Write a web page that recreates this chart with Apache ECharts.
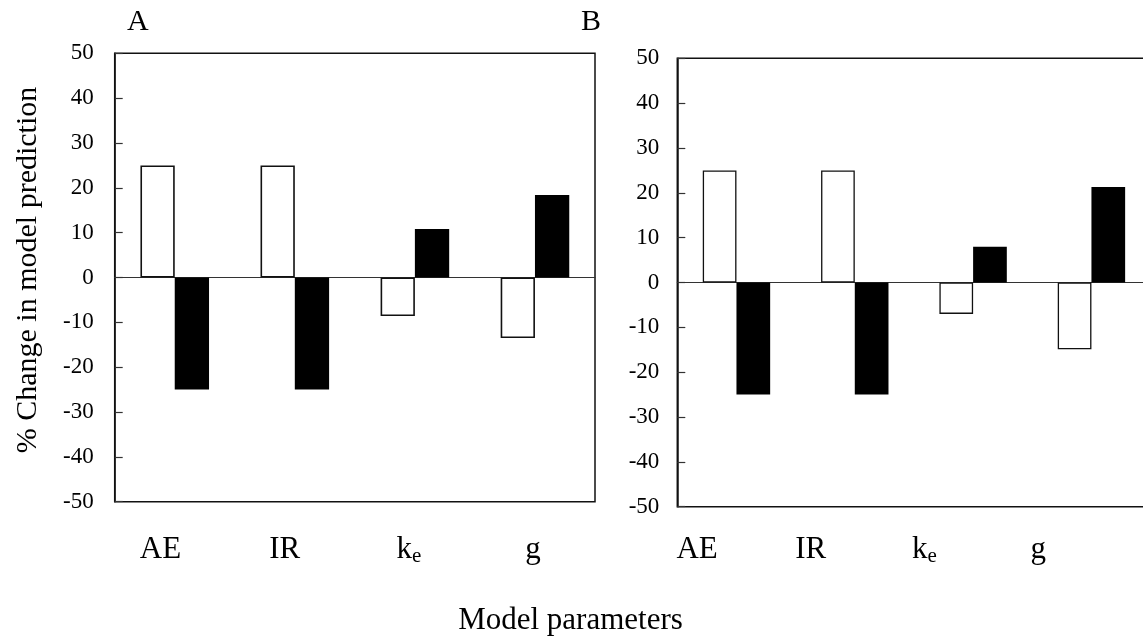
<!DOCTYPE html>
<html>
<head>
<meta charset="utf-8">
<script src="https://cdn.jsdelivr.net/npm/echarts@6/dist/echarts.min.js"></script>
<style>
  html, body { margin: 0; padding: 0; background: #fff; overflow: hidden; }
  #chart { width: 1160px; height: 638px; }
</style>
</head>
<body>
<div id="chart"></div>
<script>
// Model parameters on the category axis
const categories = ['AE', 'IR', 'k_e', 'g'];
// Y axis ticks (% change)
const yTicks = { min: -50, max: 50, step: 10 };

// Panel A: % change in prediction, parameter raised (open) / lowered (filled)
const panelA_open = [25, 25, -8.6, -13.5];
const panelA_filled = [-25, -25, 10.8, 18.4];

// Panel B
const panelB_open = [25, 25, -7.0, -14.9];
const panelB_filled = [-25, -25, 8.0, 21.3];

const FONT = "'Liberation Serif', 'Times New Roman', serif";

const panels = [
  { left: 114.7, top: 53.3, width: 480.3, height: 448.4, barW: 34.3, stroke: 1.6, labelMargin: 21,
    lab: { left: 98.4, width: 496.8, margin: 31 }, open: panelA_open, filled: panelA_filled },
  { left: 677.3, top: 58.3, width: 473.3, height: 448.4, barW: 33.7, stroke: 1.3, labelMargin: 18,
    lab: { left: 640.2, width: 454.8, margin: 26 }, open: panelB_open, filled: panelB_filled }
];

// "k_e" is drawn as k with a subscript e
function catLabel(v) {
  const m = v.split('_');
  return m.length > 1 ? '{k|' + m[0] + '}{s|' + m[1] + '}' : '{k|' + v + '}';
}

const grid = [], xAxis = [], yAxis = [], series = [];
panels.forEach((p, i) => {
  // plot area
  grid.push({ left: p.left, top: p.top, width: p.width, height: p.height,
    show: true, borderColor: '#111', borderWidth: 1.5, backgroundColor: 'transparent' });
  // label row under the plot
  grid.push({ left: p.lab.left, top: p.top, width: p.lab.width, height: p.height, show: false });

  xAxis.push({ type: 'category', gridIndex: 2 * i, data: categories,
    axisLine: { onZero: true, lineStyle: { color: '#333', width: 1.2 } },
    axisTick: { show: false }, axisLabel: { show: false }, splitLine: { show: false } });
  xAxis.push({ type: 'category', gridIndex: 2 * i + 1, data: categories,
    axisLine: { show: false }, axisTick: { show: false }, splitLine: { show: false },
    axisLabel: { show: true, margin: p.lab.margin, formatter: catLabel,
      rich: {
        k: { fontFamily: FONT, fontSize: 31, lineHeight: 34, color: '#000' },
        s: { fontFamily: FONT, fontSize: 21, lineHeight: 10, color: '#000', verticalAlign: 'bottom' }
      } } });

  yAxis.push({ type: 'value', gridIndex: 2 * i, min: yTicks.min, max: yTicks.max, interval: yTicks.step,
    axisLine: { show: true, lineStyle: { color: '#111', width: 1.5 } },
    axisTick: { show: true, inside: true, length: 8, lineStyle: { color: '#333', width: 1.2 } },
    splitLine: { show: false },
    axisLabel: { margin: p.labelMargin, fontFamily: FONT, fontSize: 23, color: '#000' } });
  yAxis.push({ type: 'value', gridIndex: 2 * i + 1, min: yTicks.min, max: yTicks.max, show: false });

  series.push({ type: 'bar', xAxisIndex: 2 * i, yAxisIndex: 2 * i, data: p.open,
    barWidth: p.barW, barGap: '0%', silent: true,
    itemStyle: { color: '#fff', borderColor: '#111', borderWidth: p.stroke } });
  series.push({ type: 'bar', xAxisIndex: 2 * i, yAxisIndex: 2 * i, data: p.filled,
    barWidth: p.barW, barGap: '0%', silent: true,
    itemStyle: { color: '#000', borderColor: '#000', borderWidth: 0 } });
});

const chart = echarts.init(document.getElementById('chart'), null, { renderer: 'canvas' });
chart.setOption({
  animation: false,
  backgroundColor: '#fff',
  grid, xAxis, yAxis, series,
  graphic: [
    { type: 'text', left: 127, top: 7, style: { text: 'A', font: '30px ' + FONT, fill: '#000' } },
    { type: 'text', left: 581, top: 7, style: { text: 'B', font: '30px ' + FONT, fill: '#000' } },
    { type: 'text', x: 28, y: 270, rotation: Math.PI / 2,
      style: { text: '% Change in model prediction', font: '30px ' + FONT, fill: '#000',
        align: 'center', verticalAlign: 'middle' } },
    { type: 'text', x: 570.5, y: 621, style: { text: 'Model parameters', font: '31px ' + FONT,
        fill: '#000', align: 'center', verticalAlign: 'middle' } }
  ]
});
</script>
</body>
</html>
